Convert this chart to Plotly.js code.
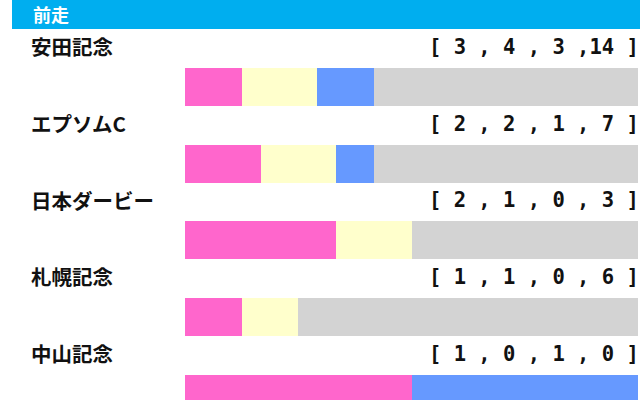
<!DOCTYPE html>
<html>
<head>
<meta charset="utf-8">
<script src="https://cdn.plot.ly/plotly-3.0.1.min.js"></script>
<style>html,body{margin:0;padding:0;background:#fff;}#chart{width:640px;height:400px;}</style>
</head>
<body>
<div id="chart"></div>
<script>
// Data
const headerTitle = "前走";
const categories = ["安田記念", "エプソムC", "日本ダービー", "札幌記念", "中山記念"];
const firstPlace  = [3, 2, 2, 1, 1];
const secondPlace = [4, 2, 1, 1, 0];
const thirdPlace  = [3, 1, 0, 0, 1];
const outOfPlace  = [14, 7, 3, 6, 0];
const seriesNames = ["1着", "2着", "3着", "着外"];
const seriesColors = ["#FF66CC", "#FFFFCC", "#6699FF", "#D3D3D3"];

const series = [firstPlace, secondPlace, thirdPlace, outOfPlace];
const totals = categories.map((_, i) => series.reduce((s, arr) => s + arr[i], 0));
const yIdx = categories.map((_, i) => i);

const traces = series.map((arr, k) => ({
  type: "bar",
  orientation: "h",
  name: seriesNames[k],
  x: arr.map((v, i) => v / totals[i]),
  y: yIdx,
  width: 0.495,
  marker: { color: seriesColors[k], line: { width: 0 } },
  hoverinfo: "skip",
  showlegend: false
}));

const NB = "\u00A0";
function pad2(n) { const s = String(n); return s.length < 2 ? NB + s : s; }
function bracket(i) {
  return "[" + series.map(arr => pad2(arr[i])).join(NB + ",") + NB + "]";
}

const annotations = [];
annotations.push({
  xref: "paper", yref: "paper", x: 31 / 640, y: 1 - 14 / 400,
  xanchor: "left", yanchor: "middle", showarrow: false,
  text: "<b>" + headerTitle + "</b>",
  font: { family: "Noto Sans CJK JP", size: 18, color: "#FFFFFF" }
});
categories.forEach((c, i) => {
  annotations.push({
    xref: "paper", yref: "y", x: 29 / 640, y: i - 0.53,
    xanchor: "left", yanchor: "middle", showarrow: false,
    text: "<b>" + c + "</b>",
    font: { family: "Noto Sans CJK JP", size: 20.5, color: "#111111" }
  });
  annotations.push({
    xref: "paper", yref: "y", x: 641 / 640, y: i - 0.52,
    xanchor: "right", yanchor: "middle", showarrow: false,
    text: "<b>" + bracket(i) + "</b>",
    font: { family: "DejaVu Sans Mono", size: 20.5, color: "#111111" }
  });
});

const layout = {
  width: 640, height: 400,
  margin: { l: 0, r: 0, t: 0, b: 0, pad: 0 },
  paper_bgcolor: "#FFFFFF", plot_bgcolor: "#FFFFFF",
  barmode: "stack",
  bargap: 0,
  xaxis: { domain: [185 / 640, 638 / 640], range: [0, 1], visible: false, fixedrange: true },
  yaxis: { range: [4.0824, -1.1347], visible: false, fixedrange: true },
  shapes: [{
    type: "rect", xref: "paper", yref: "paper",
    x0: 12 / 640, x1: 1, y0: 1 - 29 / 400, y1: 1,
    fillcolor: "#00AEEF", line: { width: 0 }, layer: "below"
  }],
  annotations: annotations,
  showlegend: false
};

Plotly.newPlot("chart", traces, layout, { displayModeBar: false, staticPlot: true });
</script>
</body>
</html>
